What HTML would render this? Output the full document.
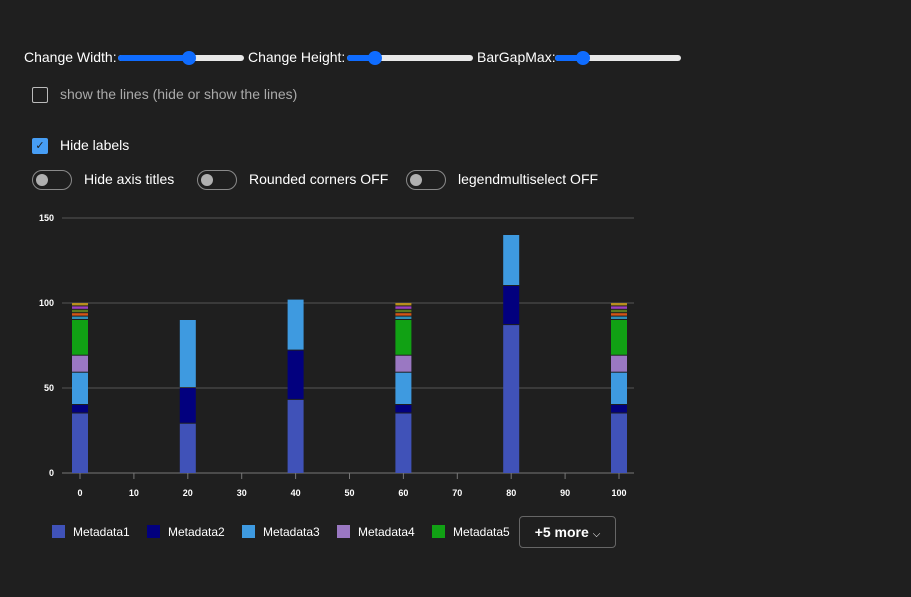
<!DOCTYPE html>
<html><head><meta charset="utf-8"><style>
body{margin:0;width:911px;height:597px;background:#1f1f1f;font-family:"Segoe UI","Liberation Sans",sans-serif;color:#fff;overflow:hidden;position:relative}
.abs{position:absolute}
.lbl{font-size:14px;color:#fff}
.slider{position:absolute;height:6px;background:#e8e8e8;border-radius:3px}
.slider .fill{position:absolute;left:0;top:0;height:6px;background:#0f6cff;border-radius:3px}
.slider .knob{position:absolute;top:-4px;width:14px;height:14px;border-radius:50%;background:#0f6cff}
.tog{position:absolute;width:38px;height:18px;border:1px solid #8a8a8a;border-radius:10px}
.tog i{position:absolute;left:3px;top:3px;width:12px;height:12px;border-radius:50%;background:#b0b0b0}
</style></head><body>
<span class="abs lbl" style="left:24px;top:49px">Change Width:</span>
<div class="slider" style="left:118px;top:55px;width:126px"><div class="fill" style="width:72px"></div><div class="knob" style="left:64px"></div></div>
<span class="abs lbl" style="left:248px;top:49px">Change Height:</span>
<div class="slider" style="left:347px;top:55px;width:126px"><div class="fill" style="width:30px"></div><div class="knob" style="left:21px"></div></div>
<span class="abs lbl" style="left:477px;top:49px">BarGapMax:</span>
<div class="slider" style="left:555px;top:55px;width:126px"><div class="fill" style="width:30px"></div><div class="knob" style="left:21px"></div></div>

<div class="abs" style="left:32px;top:87px;width:14px;height:14px;border:1px solid #bbb;border-radius:2px"></div>
<span class="abs lbl" style="left:60px;top:86px;color:#aaa">show the lines (hide or show the lines)</span>
<div class="abs" style="left:32px;top:138px;width:16px;height:16px;background:#479ef5;border-radius:2px;font-size:11px;text-align:center;line-height:16px;color:#1f1f1f">✓</div>
<span class="abs lbl" style="left:60px;top:137px">Hide labels</span>

<div class="tog" style="left:32px;top:170px"><i></i></div>
<span class="abs lbl" style="left:84px;top:171px">Hide axis titles</span>
<div class="tog" style="left:197px;top:170px"><i></i></div>
<span class="abs lbl" style="left:249px;top:171px">Rounded corners OFF</span>
<div class="tog" style="left:406px;top:170px"><i></i></div>
<span class="abs lbl" style="left:458px;top:171px">legendmultiselect OFF</span>

<svg class="abs" style="left:0;top:0" width="911" height="597" id="chart"></svg>

<div class="abs" style="left:519px;top:516px;width:95px;height:30px;border:1px solid #666;border-radius:4px;font-size:14px;font-weight:bold;line-height:30px;text-align:center">+5 more <span style="font-weight:normal;font-size:10px">⌵</span></div>

<script>
const categories=[0,20,40,60,80,100];
const seriesNames=["Metadata1","Metadata2","Metadata3","Metadata4","Metadata5","Metadata6","Metadata7","Metadata8","Metadata9","Metadata10"];
const seriesColors=["#4052b8","#02007e","#3e9ae0","#9a78c2","#11a114","#2e8fb8","#d45416","#5c7a20","#9b3fc0","#b8901e"];
const s1=[35,29,43,35,87,35];
const s2=[5,21,29,5,23,5];
const s3=[19,40,30,19,30,19];
const s4=[10,0,0,10,0,10];
const s5=[21,0,0,21,0,21];
const s6=[2,0,0,2,0,2];
const s7=[2,0,0,2,0,2];
const s8=[2,0,0,2,0,2];
const s9=[2,0,0,2,0,2];
const s10=[2,0,0,2,0,2];
const seriesValues=[s1,s2,s3,s4,s5,s6,s7,s8,s9,s10];
const yTicks=[0,50,100,150];
const xTicks=[0,10,20,30,40,50,60,70,80,90,100];
const NS="http://www.w3.org/2000/svg";
const svg=document.getElementById('chart');
const x=v=>80+v*5.39, y=v=>473-v*1.7;
function mk(t,a){const e=document.createElementNS(NS,t);for(const k in a)e.setAttribute(k,a[k]);svg.appendChild(e);return e;}
yTicks.forEach(t=>{
 const l=mk('line',{x1:62,x2:634,y1:y(t),y2:y(t),stroke:t===0?'#777':'#555','stroke-width':1});
 
 
 const tx=mk('text',{x:54,y:y(t)+3,'text-anchor':'end','font-size':9,'font-weight':'bold',fill:'#fff','font-family':'Liberation Sans'});
 tx.textContent=t;
 
 
});
xTicks.forEach(t=>{
 const l=mk('line',{x1:x(t),x2:x(t),y1:473,y2:479,stroke:'#777'});
 
 
 const tx=mk('text',{x:x(t),y:496,'text-anchor':'middle','font-size':9,'font-weight':'bold',fill:'#fff','font-family':'Liberation Sans'});
 tx.textContent=t;
 
 
});
categories.forEach((c,i)=>{
 let base=0;
 seriesValues.forEach((s,j)=>{
  const v=s[i]; if(!v) return;
  const top=base+v;
  const h=y(base)-y(top)-(j>0?1:0);
  const r=mk('rect',{x:x(c)-8,y:y(top),width:16,height:Math.max(h,0.8),fill:seriesColors[j]});
  
  
  base=top;
 });
});
const lx=[52,147,242,337,432];
lx.forEach((px,j)=>{
 const r=mk('rect',{x:px,y:525,width:13,height:13,fill:seriesColors[j]});
 
 
 const t=mk('text',{x:px+21,y:536,'font-size':12,fill:'#fff','font-family':'Segoe UI, Liberation Sans'});
 t.textContent=seriesNames[j];
 
 
});
</script>
</body></html>
